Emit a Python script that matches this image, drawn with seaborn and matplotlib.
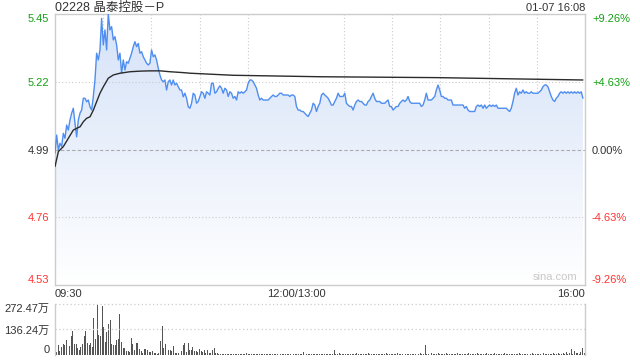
import numpy as np
import pandas as pd
import matplotlib
matplotlib.use("Agg")
import matplotlib.pyplot as plt
import seaborn as sns
from matplotlib.patches import Polygon
from matplotlib.colors import LinearSegmentedColormap

# ---------------- data ----------------
title = "02228 晶泰控股－P"
stamp = "01-07 16:08"
prev_close = 4.99

price_0930_1015 = [
    4.977, 5.039, 4.988, 5.011, 5.000, 5.045, 5.028, 5.073, 5.056, 5.090,
    5.113, 5.130, 5.079, 5.033, 5.090, 5.113, 5.124, 5.164, 5.164, 5.152,
    5.158, 5.135, 5.124, 5.169, 5.226, 5.317, 5.294, 5.328, 5.435, 5.345,
    5.396, 5.328, 5.450, 5.396, 5.407, 5.362, 5.373, 5.345, 5.294, 5.317,
    5.249, 5.294, 5.260, 5.288, 5.283, 5.300, 5.317, 5.339, 5.356, 5.339,
    5.350, 5.317, 5.322, 5.305, 5.294, 5.283, 5.277, 5.283, 5.328, 5.305,
    5.311, 5.294, 5.266, 5.243, 5.226, 5.220, 5.226, 5.192, 5.220, 5.226,
    5.209, 5.226, 5.209, 5.215, 5.203, 5.192, 5.192, 5.169, 5.181, 5.164,
    5.135, 5.130]
price_1015_1305 = [
    5.147, 5.181, 5.175, 5.147, 5.153, 5.170, 5.186, 5.181, 5.164, 5.186,
    5.181, 5.175, 5.215, 5.215, 5.181, 5.186, 5.198, 5.206, 5.198, 5.181,
    5.198, 5.192, 5.170, 5.186, 5.181, 5.164, 5.170, 5.158, 5.186, 5.181,
    5.186, 5.181, 5.186, 5.192, 5.215, 5.226, 5.226, 5.220, 5.209, 5.198,
    5.175, 5.158, 5.164, 5.158, 5.158, 5.158, 5.158, 5.164, 5.170, 5.175,
    5.170, 5.170, 5.175, 5.181, 5.181, 5.175, 5.175, 5.175, 5.175, 5.170,
    5.175, 5.175, 5.170, 5.136, 5.124, 5.124, 5.119, 5.119, 5.113, 5.107,
    5.102, 5.113, 5.124, 5.147, 5.141, 5.119, 5.136, 5.147]
price_1305_1425 = [
    5.175, 5.181, 5.175, 5.170, 5.164, 5.153, 5.141, 5.141, 5.153, 5.164,
    5.181, 5.170, 5.170, 5.170, 5.181, 5.147, 5.141, 5.136, 5.136, 5.124,
    5.141, 5.153, 5.158, 5.153, 5.153, 5.147, 5.141, 5.141, 5.153, 5.158,
    5.170, 5.181, 5.164, 5.153, 5.153, 5.153, 5.147, 5.147, 5.147, 5.153,
    5.158, 5.136, 5.136, 5.124, 5.130, 5.136, 5.136, 5.147, 5.153, 5.158,
    5.153, 5.158, 5.170, 5.153, 5.147, 5.147, 5.147, 5.147, 5.147, 5.147,
    5.136, 5.141, 5.158, 5.181, 5.158, 5.158, 5.158, 5.164, 5.170, 5.192,
    5.209, 5.192, 5.170, 5.170, 5.164, 5.164, 5.158, 5.158]
price_1425_1600 = [
    5.158, 5.141, 5.141, 5.141, 5.141, 5.141, 5.141, 5.141, 5.130, 5.136,
    5.124, 5.119, 5.119, 5.119, 5.119, 5.136, 5.141, 5.136, 5.141, 5.130,
    5.141, 5.130, 5.136, 5.141, 5.136, 5.141, 5.136, 5.141, 5.130, 5.130,
    5.130, 5.130, 5.130, 5.130, 5.124, 5.119, 5.130, 5.153, 5.181, 5.198,
    5.175, 5.186, 5.181, 5.192, 5.181, 5.186, 5.181, 5.181, 5.186, 5.181,
    5.181, 5.181, 5.181, 5.186, 5.192, 5.203, 5.209, 5.209, 5.203, 5.186,
    5.170, 5.158, 5.153, 5.164, 5.170, 5.181, 5.186, 5.181, 5.186, 5.181,
    5.186, 5.181, 5.186, 5.181, 5.186, 5.181, 5.186, 5.181, 5.186, 5.164]

avg_min = [0, 2.1, 5.2, 8.3, 11.4, 13.5, 15.6, 17.6, 19.7, 21.8, 23.9, 25.9,
           28, 30.1, 33.2, 36.3, 40.5, 46.7, 52.9, 59.1, 65.4, 71.6, 79.9,
           84, 110.8, 165, 237.8, 328.7]
avg_px = [4.932, 4.983, 5.000, 5.028, 5.056, 5.062, 5.067, 5.084, 5.096,
          5.101, 5.124, 5.152, 5.181, 5.203, 5.232, 5.243, 5.249, 5.254,
          5.256, 5.257, 5.257, 5.254, 5.251, 5.249, 5.242, 5.237, 5.234,
          5.226]

vol_morning = [
    29.1, 14.5, 50.9, 23.6, 41.8, 56.3, 50.9, 78.1, 23.6, 47.2,
    99.9, 127.2, 56.3, 56.3, 38.1, 27.2, 41.8, 56.3, 99.9, 129.0,
    63.6, 50.9, 65.4, 41.8, 199.8, 83.6, 268.8, 109.0, 99.9, 263.4,
    147.1, 69.0, 123.5, 165.3, 187.1, 56.3, 50.9, 50.9, 78.1, 87.2,
    219.8, 69.0, 38.1, 38.1, 23.6, 20.0, 14.5, 90.8, 59.9, 27.2,
    63.6, 63.6, 32.7, 20.0, 10.9, 32.7, 32.7, 27.2, 14.5, 14.5,
    23.6, 9.1, 10.9, 5.4, 10.9, 72.7, 154.4, 36.3, 59.9, 83.6,
    27.2, 27.2, 23.6, 47.2, 9.1, 9.1, 9.1, 9.1, 23.6, 54.5,
    63.6, 14.5, 63.6, 27.2, 27.2, 41.8, 23.6, 20.0, 14.5, 32.7,
    23.6, 14.5, 29.1, 9.1, 27.2, 9.1, 10.9, 27.2, 36.3, 9.1,
    9.1, 5.4, 5.4]
vol_later = [
    4, 6, 3, 5, 8, 4, 3, 6, 5, 4, 7, 3, 5, 4, 6, 9, 4, 3, 5, 6,
    4, 7, 5, 3, 6, 4, 8, 5, 3, 4, 6, 5, 4, 7, 3, 5, 6, 4, 5, 3,
    6, 4, 5, 7, 3, 5, 4, 6, 8, 5, 16, 4, 5, 3, 6, 4, 5, 7, 4, 3,
    5, 6, 4, 5, 3, 6, 8, 5, 7, 27, 6, 4, 9, 5, 7, 4, 6, 5, 3, 8,
    5, 4, 6, 9, 5, 4, 7, 5, 3, 6, 10, 4, 5, 8, 6, 4, 5, 7, 3, 6,
    5, 9, 4, 6, 5, 3, 7, 5, 10, 6, 4, 5, 8, 6, 4, 7, 5, 6, 4, 8,
    5, 6, 9, 7, 5, 54, 8, 6, 5, 10, 7, 4, 6, 9, 5, 7, 4, 6, 12, 5,
    7, 5, 8, 4, 6, 9, 5, 7, 4, 6, 5, 8, 10, 6, 4, 7, 5, 9, 6, 4,
    8, 5, 6, 11, 7, 4, 6, 5, 9, 6, 4, 8, 5, 6, 10, 7, 4, 6, 5, 8,
    6, 4, 7, 9, 5, 6, 4, 8, 5, 7, 6, 10, 5, 4, 7, 6, 8, 5, 9, 6,
    4, 7, 6, 5, 9, 8, 6, 12, 7, 5, 9, 8, 14, 6, 10, 31, 7, 22, 9, 12,
    8, 15, 36, 10]

price_ticks = [4.53, 4.76, 4.99, 5.22, 5.45]
pct_labels = ["-9.26%", "-4.63%", "0.00%", "+4.63%", "+9.26%"]
x_tick_labels = ["09:30", "12:00/13:00", "16:00"]
vol_ticks = [0, 136.24, 272.47]
vol_labels = ["0", "136.24万", "272.47万"]

# ---------------- style ----------------
sns.set_theme(style="white")
plt.rcParams["font.family"] = ["Liberation Sans", "Noto Sans CJK SC", "DejaVu Sans"]

GREEN = "#14a014"
RED = "#ff3333"
DARK = "#333333"
GRID = "#cccccc"
label_colors = [RED, RED, DARK, GREEN, GREEN]

price = price_0930_1015 + price_1015_1305 + price_1305_1425 + price_1425_1600
t = np.linspace(0, 328.7, len(price))
df = pd.DataFrame({"t": t, "price": price})
dfa = pd.DataFrame({"t": avg_min, "avg": avg_px})
vol = vol_morning + vol_later
tv = np.linspace(0, 329.5, len(vol))

fig = plt.figure(figsize=(6.4, 3.6), dpi=100)
ax = fig.add_axes([55 / 640, 1 - 285 / 360, 530 / 640, 271 / 360])
axv = fig.add_axes([55 / 640, 1 - 355 / 360, 530 / 640, 51 / 360])

ymin, ymax = price_ticks[0], price_ticks[-1]
ax.set_xlim(0, 330)
ax.set_ylim(ymin, ymax)

# gradient fill under price line
grad = np.linspace(0, 1, 256).reshape(-1, 1)
cmap = LinearSegmentedColormap.from_list("g", ["#ffffff", "#d5e2f8"])
im = ax.imshow(grad, extent=[0, 330, ymin, ymax], origin="lower",
               aspect="auto", cmap=cmap, zorder=1)
verts = [(t[0], ymin)] + list(zip(t, price)) + [(t[-1], ymin)]
poly = Polygon(verts, closed=True, facecolor="none", edgecolor="none")
ax.add_patch(poly)
im.set_clip_path(poly)

# grid
ax.set_xticks([0, 150, 330])
ax.set_xticks(np.arange(30, 330, 30), minor=True)
ax.grid(False)
ax.grid(which="minor", axis="x", color=GRID, linestyle=(0, (1, 2)), lw=0.8, zorder=2)
for yv in [4.76, 5.22]:
    ax.axhline(yv, color=GRID, linestyle=(0, (1, 2)), lw=0.8, zorder=2)
ax.axhline(prev_close, color="#aaaaaa", linestyle=(0, (3, 2)), lw=0.8, zorder=2)

sns.lineplot(data=df, x="t", y="price", ax=ax, color="#4f8ef0", lw=1.0, zorder=4)
sns.lineplot(data=dfa, x="t", y="avg", ax=ax, color="#2b2b2b", lw=1.0, zorder=5)
ax.set_xlabel("")
ax.set_ylabel("")

for s in ax.spines.values():
    s.set_color(GRID)
    s.set_linewidth(1)

ax.set_xticklabels(x_tick_labels, fontsize=8, color=DARK)
xl = ax.get_xticklabels()
xl[0].set_ha("left")
xl[-1].set_ha("right")
ax.tick_params(axis="x", which="both", length=0, pad=3)

ax.set_yticks(price_ticks)
ax.set_yticklabels([f"{v:.2f}" for v in price_ticks], fontsize=8)
ax.tick_params(axis="y", length=0, pad=4)
for lab, c in zip(ax.get_yticklabels(), label_colors):
    lab.set_color(c)
ylabs = ax.get_yticklabels()
ylabs[0].set_va("bottom")
ylabs[-1].set_va("top")

ax2 = ax.twinx()
ax2.set_ylim(ymin, ymax)
ax2.set_yticks(price_ticks)
ax2.set_yticklabels(pct_labels, fontsize=8)
ax2.tick_params(axis="y", length=0, pad=5)
for lab, c in zip(ax2.get_yticklabels(), label_colors):
    lab.set_color(c)
r = ax2.get_yticklabels()
r[0].set_va("bottom")
r[-1].set_va("top")
for s in ax2.spines.values():
    s.set_visible(False)
ax2.grid(False)

ax.text(0.985, 0.012, "sina.com", transform=ax.transAxes, ha="right",
        va="bottom", fontsize=8, color="#c8c8c8")

fig.text(55 / 640, 1 - 8 / 360, title, ha="left", va="center", fontsize=9, color=DARK)
fig.text(585 / 640, 1 - 8 / 360, stamp, ha="right", va="center", fontsize=8, color=DARK)

# volume
axv.bar(tv, vol, width=0.6, color="#555555", linewidth=0)
axv.set_xlim(0, 330)
axv.set_ylim(0, vol_ticks[-1])
axv.set_xticks([])
axv.set_yticks(vol_ticks)
axv.set_yticklabels(vol_labels, fontsize=8, color=DARK)
axv.tick_params(axis="y", length=0, pad=4)
vl = axv.get_yticklabels()
vl[0].set_va("bottom")
vl[-1].set_va("top")
axv.grid(False)
for yv in vol_ticks[1:]:
    axv.axhline(yv, color=GRID, linestyle=(0, (1, 2)), lw=0.9, clip_on=False)
axv.spines["top"].set_visible(False)
axv.spines["bottom"].set_visible(False)
for k in ["left", "right"]:
    axv.spines[k].set_color(GRID)
    axv.spines[k].set_linewidth(1)

fig.savefig("out.png", dpi=100)
